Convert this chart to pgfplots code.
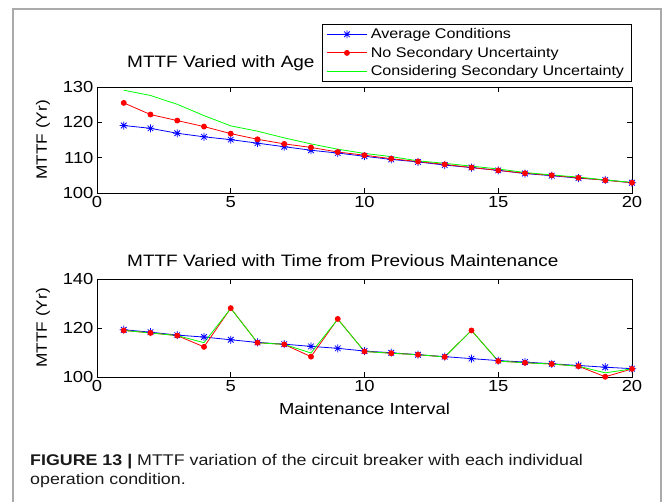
\documentclass[border=0pt]{standalone}
\usepackage{pgfplots}
\pgfplotsset{compat=1.18}
\usepackage{fontspec}
\setmainfont{Liberation Sans}
\newfontfamily\figfont{Liberation Sans}[FakeStretch=1.15]
\newfontfamily\capfont{Liberation Sans}[FakeStretch=1.15]
\definecolor{mblue}{RGB}{0,0,255}
\definecolor{mred}{RGB}{255,0,0}
\definecolor{mgreen}{RGB}{0,255,0}
\definecolor{framegray}{RGB}{170,170,170}
\pgfdeclareplotmark{mstar}{%
  \pgfpathmoveto{\pgfqpoint{-\pgfplotmarksize}{0pt}}\pgfpathlineto{\pgfqpoint{\pgfplotmarksize}{0pt}}%
  \pgfpathmoveto{\pgfqpoint{0pt}{-\pgfplotmarksize}}\pgfpathlineto{\pgfqpoint{0pt}{\pgfplotmarksize}}%
  \pgfpathmoveto{\pgfqpoint{-0.7\pgfplotmarksize}{-0.7\pgfplotmarksize}}\pgfpathlineto{\pgfqpoint{0.7\pgfplotmarksize}{0.7\pgfplotmarksize}}%
  \pgfpathmoveto{\pgfqpoint{-0.7\pgfplotmarksize}{0.7\pgfplotmarksize}}\pgfpathlineto{\pgfqpoint{0.7\pgfplotmarksize}{-0.7\pgfplotmarksize}}%
  \pgfusepathqstroke}
\pgfplotsset{
  mtf/.style={
    scale only axis,
    xmin=0, xmax=20,
    xtick={0,5,10,15,20},
    tick align=inside,
    major tick length=5pt,
    axis line style={line width=0.8pt},
    every tick/.style={line width=0.6pt, black},
    /pgf/number format/assume math mode=true,
    every tick label/.append style={font=\figfont\fontsize{16}{18}\selectfont},
    ylabel={MTTF (Yr)},
    every axis y label/.style={at={(axis description cs:-0.101,0.5)}, rotate=90, anchor=center, font=\figfont\fontsize{15}{17}\selectfont},
    clip=false,
  },
  sblue/.style={mblue, line width=0.8pt, mark=mstar, mark size=4pt, mark options={line width=0.8pt}},
  sred/.style={mred, line width=0.8pt, mark=*, mark size=2.5pt},
  sgreen/.style={mgreen, line width=0.8pt, no marks},
}
\begin{document}
\begin{tikzpicture}[x=1pt,y=1pt]
\useasboundingbox (0,0) rectangle (665,-502);
\draw[line width=1.5pt, framegray] (13,-502) -- (13,-9) -- (661,-9) -- (661,-502);

\begin{axis}[mtf,
  at={(97pt,-193pt)}, anchor=south west,
  width=535pt, height=106pt,
  ymin=100, ymax=130, ytick={100,110,120,130},
  legend style={at={(1,1.594)}, anchor=north east, draw=black, line width=0.8pt,
    font=\figfont\fontsize{14}{16}\selectfont, nodes={inner sep=3.5pt}, inner xsep=4pt, inner ysep=0.5pt},
  legend cell align=left,
  legend image code/.code={\draw[mark repeat=2, mark phase=2] plot coordinates {(0pt,0pt) (20pt,0pt) (40pt,0pt)};},
]
\addplot[sblue] coordinates {(1,119.1)(2,118.3)(3,116.9)(4,115.9)(5,115.1)(6,114.1)(7,113.1)(8,112.1)(9,111.3)(10,110.4)(11,109.5)(12,108.8)(13,107.9)(14,107.2)(15,106.4)(16,105.5)(17,104.9)(18,104.2)(19,103.7)(20,102.9)};
\addplot[sred] coordinates {(1,125.5)(2,122.2)(3,120.5)(4,118.8)(5,116.8)(6,115.2)(7,113.9)(8,112.9)(9,111.6)(10,110.7)(11,109.7)(12,108.9)(13,108.1)(14,107.2)(15,106.4)(16,105.6)(17,105.0)(18,104.3)(19,103.6)(20,102.9)};
\addplot[sgreen] coordinates {(1,129.1)(2,127.6)(3,125.1)(4,121.9)(5,119.0)(6,117.5)(7,115.6)(8,113.9)(9,112.4)(10,111.2)(11,110.3)(12,109.1)(13,108.4)(14,107.6)(15,106.8)(16,105.8)(17,105.1)(18,104.5)(19,103.7)(20,103.0)};
\legend{Average Conditions, No Secondary Uncertainty, Considering Secondary Uncertainty}
\end{axis}

\begin{axis}[mtf,
  at={(97pt,-377pt)}, anchor=south west,
  width=535pt, height=98pt,
  ymin=100, ymax=140, ytick={100,120,140},
  xlabel={Maintenance Interval},
  every axis x label/.style={at={(axis description cs:0.5,0)}, anchor=base, yshift=-38pt, font=\figfont\fontsize{16}{18}\selectfont},
]
\addplot[sblue] coordinates {(1,119.3)(2,118.3)(3,117.1)(4,116.3)(5,115.2)(6,114.1)(7,113.4)(8,112.5)(9,111.7)(10,110.6)(11,109.9)(12,109.1)(13,108.3)(14,107.5)(15,106.7)(16,106.1)(17,105.4)(18,104.7)(19,104.0)(20,103.4)};
\addplot[sred] coordinates {(1,119.0)(2,118.0)(3,116.9)(4,112.3)(5,128.1)(6,114.0)(7,113.3)(8,108.3)(9,123.7)(10,110.4)(11,109.7)(12,109.1)(13,108.2)(14,119.0)(15,106.5)(16,105.8)(17,105.3)(18,104.4)(19,100.1)(20,103.3)};
\addplot[sgreen] coordinates {(1,119.0)(2,118.0)(3,116.9)(4,114.0)(5,128.0)(6,114.0)(7,113.3)(8,109.8)(9,123.6)(10,110.4)(11,109.7)(12,109.1)(13,108.2)(14,119.0)(15,106.5)(16,105.8)(17,105.3)(18,104.4)(19,101.7)(20,103.3)};
\end{axis}

\node[anchor=base west, font=\figfont\fontsize{16.5}{18}\selectfont, inner sep=0pt] at (127,-68) {MTTF Varied with Age};
\node[anchor=base west, font=\figfont\fontsize{16.5}{18}\selectfont, inner sep=0pt] at (127,-267) {MTTF Varied with Time from Previous Maintenance};

\node[anchor=base west, font=\capfont\fontsize{15.5}{18}\selectfont, inner sep=0pt, text=black!90] at (30,-466) {\textbf{FIGURE 13 |} MTTF variation of the circuit breaker with each individual};
\node[anchor=base west, font=\capfont\fontsize{15.5}{18}\selectfont, inner sep=0pt, text=black!90] at (30,-485) {operation condition.};
\end{tikzpicture}
\end{document}
